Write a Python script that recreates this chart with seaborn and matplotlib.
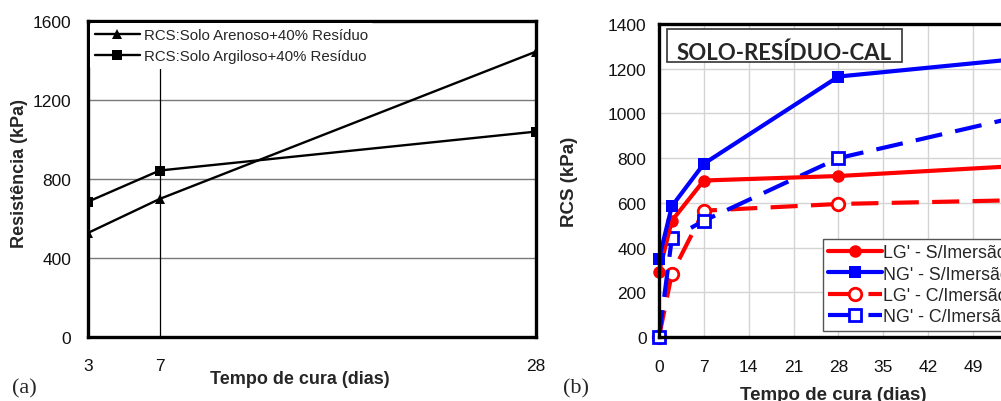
import matplotlib
matplotlib.use("Agg")
import matplotlib.pyplot as plt
import seaborn as sns
import pandas as pd
from matplotlib.patches import Rectangle

# ---------------- data (a) ----------------
days_a = [3, 7, 28]
arenoso = [527, 699, 1445]
argiloso = [685, 843, 1040]
label_arenoso = "RCS:Solo Arenoso+40% Resíduo"
label_argiloso = "RCS:Solo Argiloso+40% Resíduo"
yticks_a = [0, 400, 800, 1200, 1600]

# ---------------- data (b) ----------------
days_b = [0, 2, 7, 28, 56]
lg_s = [290, 520, 700, 720, 765]
ng_s = [350, 585, 775, 1165, 1244]
lg_c = [0, 283, 565, 595, 612]
ng_c = [0, 441, 520, 800, 985]
labels_b = ["LG' - S/Imersão", "NG' - S/Imersão", "LG' - C/Imersão", "NG' - C/Imersão"]
xticks_b = [0, 7, 14, 21, 28, 35, 42, 49, 56]
yticks_b = [0, 200, 400, 600, 800, 1000, 1200, 1400]
title_b = "SOLO-RESÍDUO-CAL"

sns.set_theme(style="white")
plt.rcParams['font.family'] = ['Liberation Sans', 'DejaVu Sans']

fig = plt.figure(figsize=(10.01, 4.02), dpi=100)

# ================= panel (a) =================
ax1 = fig.add_axes([88/1001, (402-338)/402, (536-88)/1001, (338-22)/402])
df_a = pd.DataFrame({"dias": days_a, "aren": arenoso, "argi": argiloso})
sns.lineplot(data=df_a, x="dias", y="aren", ax=ax1, color="black", lw=1.7,
             marker="^", markersize=6.5, markeredgewidth=0, label=label_arenoso,
             estimator=None, sort=False)
sns.lineplot(data=df_a, x="dias", y="argi", ax=ax1, color="black", lw=1.7,
             marker="s", markersize=6.5, markeredgewidth=0, label=label_argiloso,
             estimator=None, sort=False)
ax1.set_xlim(3, 28)
ax1.set_ylim(0, 1600)
ax1.set_xticks(days_a)
ax1.set_yticks(yticks_a)
for y in yticks_a[1:-1]:
    ax1.axhline(y, color="#7a7a7a", lw=1.0, zorder=0.5)
ax1.axvline(7, color="black", lw=0.9, zorder=0.5)
for s in ax1.spines.values():
    s.set_visible(True)
    s.set_color("black")
    s.set_linewidth(2.4)
ax1.tick_params(axis="both", which="both", direction="out", length=3, width=0.8,
                color="#555555", labelsize=12.5, labelcolor="#111111")
ax1.tick_params(axis="x", pad=12)
ax1.tick_params(axis="y", pad=9)
ax1.set_xlabel("Tempo de cura (dias)", fontsize=13, fontweight="bold")
ax1.set_ylabel("Resistência (kPa)", fontsize=13, fontweight="bold")
ax1.xaxis.set_label_coords(0.473, -0.105)
ax1.yaxis.set_label_coords(-0.135, 0.52)
leg1 = ax1.legend(loc="upper left", bbox_to_anchor=(0.0, 1.0), frameon=True,
                  fontsize=10.8, handlelength=3.0, handletextpad=0.3,
                  borderpad=0.35, labelspacing=0.5, borderaxespad=0.1)
leg1.get_frame().set_facecolor("white")
leg1.get_frame().set_edgecolor("none")
leg1.get_frame().set_alpha(1.0)

fig.text(12/1001, (402-393)/402, "(a)", fontsize=16, family="Liberation Serif")

# ================= panel (b) =================
ax2 = fig.add_axes([659/1001, (402-338)/402, 56*6.41/1001, (338-25)/402])
df_b = pd.DataFrame({"dias": days_b, "lg_s": lg_s, "ng_s": ng_s, "lg_c": lg_c, "ng_c": ng_c})
red = "#ff0000"
blue = "#0000ff"
dash = (0, (6.5, 3.2))
sns.lineplot(data=df_b, x="dias", y="lg_c", ax=ax2, color=red, lw=3, linestyle=dash,
             marker="o", markersize=9, markerfacecolor="white", markeredgecolor=red,
             markeredgewidth=2, label=labels_b[2], estimator=None, sort=False, clip_on=False)
sns.lineplot(data=df_b, x="dias", y="ng_c", ax=ax2, color=blue, lw=3, linestyle=dash,
             marker="s", markersize=9, markerfacecolor="white", markeredgecolor=blue,
             markeredgewidth=2, label=labels_b[3], estimator=None, sort=False, clip_on=False)
sns.lineplot(data=df_b, x="dias", y="lg_s", ax=ax2, color=red, lw=3,
             marker="o", markersize=9, markeredgewidth=0, label=labels_b[0],
             estimator=None, sort=False, clip_on=False)
sns.lineplot(data=df_b, x="dias", y="ng_s", ax=ax2, color=blue, lw=3,
             marker="s", markersize=9, markeredgewidth=0, label=labels_b[1],
             estimator=None, sort=False, clip_on=False)
ax2.set_xlim(0, 56)
ax2.set_ylim(0, 1400)
ax2.set_xticks(xticks_b)
ax2.set_yticks(yticks_b)
ax2.grid(True, color="#d4d4d4", lw=1.0)
ax2.set_axisbelow(True)
for s in ax2.spines.values():
    s.set_visible(True)
    s.set_color("black")
    s.set_linewidth(2.4)
ax2.tick_params(axis="both", which="both", direction="out", length=4, width=0.8,
                color="#555555", labelsize=12.5, labelcolor="#111111")
ax2.tick_params(axis="x", pad=12)
ax2.tick_params(axis="y", pad=5)
ax2.set_xlabel("Tempo de cura (dias)", fontsize=13.5, fontweight="bold")
ax2.set_ylabel("RCS (kPa)", fontsize=13.5, fontweight="bold")
ax2.xaxis.set_label_coords(0.486, -0.155)
ax2.yaxis.set_label_coords(-0.225, 0.5)

h, l = ax2.get_legend_handles_labels()
hd = dict(zip(l, h))
leg2 = ax2.legend([hd[x] for x in labels_b], labels_b, loc="lower left",
                  bbox_to_anchor=(0.457, 0.02), frameon=True, fontsize=12.8,
                  handlelength=3.0, handletextpad=0.1, borderpad=0.3,
                  labelspacing=0.25, borderaxespad=0.0, fancybox=False)
leg2.get_frame().set_edgecolor("#555555")
leg2.get_frame().set_linewidth(1.0)
leg2.get_frame().set_facecolor("white")
leg2.get_frame().set_alpha(1.0)

ax2.add_patch(Rectangle((0.0223, 0.879), 0.655, 0.105, transform=ax2.transAxes,
                        facecolor="white", edgecolor="#333333", lw=1.2, zorder=5))
ax2.text(0.348, 0.889, title_b, transform=ax2.transAxes, ha="center", va="baseline",
         fontsize=16, fontweight="bold", family="Lato", zorder=6)

fig.text(563/1001, (402-393)/402, "(b)", fontsize=16, family="Liberation Serif")

fig.savefig("out.png", dpi=100)
